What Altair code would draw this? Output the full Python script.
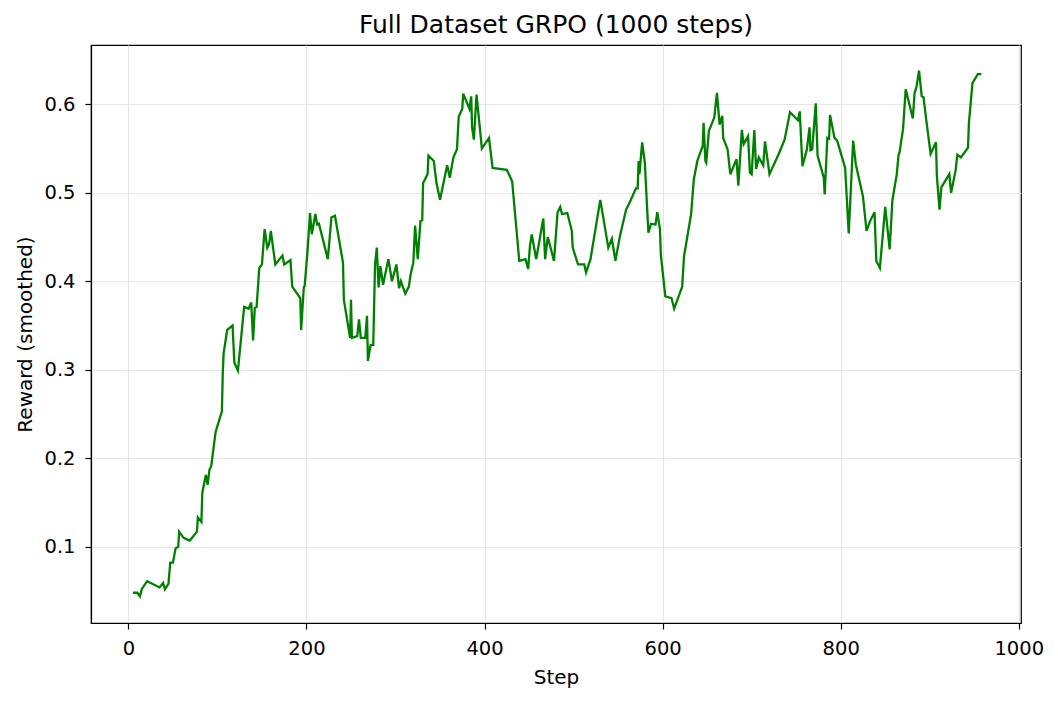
import altair as alt
import pandas as pd

steps = [5, 10, 13, 15, 21, 35, 39, 41, 45, 47, 50, 53, 56, 57, 62, 69, 77, 78, 82, 83,
         87, 89, 91, 93, 98, 105, 106, 107, 111, 117, 119, 123, 130, 135, 138, 140, 142, 144, 147, 150,
         153, 156, 158, 160, 165, 173, 175, 182, 184, 193, 194, 197, 198, 201, 204, 206, 210, 212, 214, 224,
         228, 232, 241, 242, 249, 250, 251, 257, 259, 261, 266, 268, 269, 272, 275, 277, 279, 281, 283, 286,
         292, 296, 301, 304, 306, 311, 315, 317, 320, 322, 325, 328, 330, 331, 336, 337, 343, 346, 350, 358,
         361, 365, 369, 371, 375, 376, 383, 385, 386, 388, 391, 397, 405, 409, 425, 431, 439, 446, 449, 451,
         453, 458, 466, 468, 471, 478, 482, 485, 487, 493, 498, 499, 505, 512, 514, 519, 530, 539, 543, 547,
         552, 559, 563, 570, 572, 573, 574, 577, 580, 584, 587, 592, 594, 597, 598, 603, 610, 613, 622, 624,
         632, 635, 639, 645, 646, 648, 649, 652, 658, 661, 664, 667, 668, 673, 676, 683, 685, 689, 691, 696,
         698, 700, 703, 705, 708, 713, 715, 720, 730, 737, 743, 752, 754, 757, 762, 765, 766, 768, 772, 774,
         781, 782, 785, 787, 788, 793, 796, 805, 809, 814, 817, 825, 829, 833, 838, 840, 844, 850, 855, 858,
         863, 865, 866, 870, 873, 881, 883, 885, 888, 891, 893, 896, 901, 907, 908, 911, 913, 922, 924, 929,
         931, 935, 943, 944, 948, 954, 958]

rewards = [0.048, 0.048, 0.044, 0.052, 0.061, 0.054, 0.059, 0.052, 0.058, 0.082, 0.082, 0.098, 0.100, 0.117, 0.110, 0.107, 0.117, 0.133, 0.128, 0.161,
           0.181, 0.170, 0.187, 0.191, 0.230, 0.253, 0.297, 0.319, 0.345, 0.350, 0.308, 0.299, 0.371, 0.369, 0.376, 0.333, 0.370, 0.371, 0.415, 0.419,
           0.459, 0.438, 0.442, 0.457, 0.419, 0.429, 0.419, 0.424, 0.394, 0.381, 0.345, 0.393, 0.395, 0.432, 0.477, 0.453, 0.476, 0.464, 0.465, 0.425,
           0.472, 0.474, 0.421, 0.379, 0.336, 0.379, 0.336, 0.338, 0.357, 0.336, 0.336, 0.361, 0.310, 0.328, 0.328, 0.419, 0.438, 0.393, 0.417, 0.396,
           0.425, 0.400, 0.419, 0.392, 0.400, 0.386, 0.394, 0.408, 0.421, 0.463, 0.425, 0.468, 0.469, 0.511, 0.521, 0.542, 0.536, 0.511, 0.492, 0.531,
           0.517, 0.540, 0.549, 0.586, 0.595, 0.612, 0.595, 0.609, 0.574, 0.560, 0.611, 0.550, 0.562, 0.528, 0.526, 0.513, 0.423, 0.425, 0.414, 0.440,
           0.453, 0.425, 0.471, 0.425, 0.450, 0.423, 0.478, 0.484, 0.476, 0.477, 0.457, 0.438, 0.419, 0.419, 0.410, 0.425, 0.492, 0.438, 0.448, 0.423,
           0.451, 0.481, 0.489, 0.505, 0.505, 0.536, 0.521, 0.557, 0.534, 0.455, 0.465, 0.464, 0.478, 0.459, 0.430, 0.383, 0.381, 0.369, 0.394, 0.428,
           0.476, 0.515, 0.536, 0.553, 0.579, 0.536, 0.534, 0.570, 0.585, 0.613, 0.577, 0.587, 0.562, 0.549, 0.521, 0.538, 0.508, 0.571, 0.555, 0.564,
           0.523, 0.521, 0.571, 0.527, 0.540, 0.531, 0.558, 0.521, 0.543, 0.560, 0.591, 0.582, 0.592, 0.530, 0.549, 0.574, 0.548, 0.549, 0.601, 0.542,
           0.517, 0.498, 0.562, 0.561, 0.588, 0.562, 0.559, 0.528, 0.454, 0.559, 0.532, 0.496, 0.457, 0.468, 0.478, 0.423, 0.415, 0.484, 0.436, 0.491,
           0.521, 0.543, 0.545, 0.572, 0.617, 0.584, 0.613, 0.619, 0.638, 0.609, 0.608, 0.583, 0.544, 0.557, 0.519, 0.481, 0.506, 0.521, 0.500, 0.525,
           0.543, 0.540, 0.551, 0.579, 0.624, 0.634, 0.634]

x_ticks = [0, 200, 400, 600, 800, 1000]
y_ticks = [0.1, 0.2, 0.3, 0.4, 0.5, 0.6]

df = pd.DataFrame({"Step": steps, "Reward": rewards})

FONT = "DejaVu Sans"

chart = (
    alt.Chart(df)
    .mark_line(color="#008000", strokeWidth=2.3)
    .encode(
        x=alt.X(
            "Step:Q",
            scale=alt.Scale(domain=[-42, 1002.5], nice=False, zero=False),
            axis=alt.Axis(
                values=x_ticks, format="d", title="Step",
                titleBaseline="alphabetic", titleY=60,
            ),
        ),
        y=alt.Y(
            "Reward:Q",
            scale=alt.Scale(domain=[0.0138, 0.667], nice=False, zero=False),
            axis=alt.Axis(
                values=y_ticks, format=".1f", title="Reward (smoothed)",
                titleBaseline="alphabetic", titleX=-60,
            ),
        ),
    )
    .properties(
        width=930,
        height=578,
        title=alt.TitleParams(
            "Full Dataset GRPO (1000 steps)",
            font=FONT, fontSize=25, fontWeight="normal", color="black",
            anchor="middle", offset=7.5,
        ),
        autosize=alt.AutoSizeParams(type="none"),
        padding={"left": 83, "top": 37, "right": 29, "bottom": 70},
    )
    .configure_view(stroke="black", strokeWidth=1.2)
    .configure_axis(
        labelFont=FONT, labelFontSize=19.5, labelColor="black",
        titleFont=FONT, titleFontSize=20, titleColor="black", titleFontWeight="normal",
        domainColor="black", domainWidth=1.2,
        tickColor="black", tickSize=6, tickWidth=1.2,
        labelPadding=10,
        grid=True, gridColor="#e6e6e6", gridWidth=1.2,
    )
)

chart.save("out.html", embed_options={"renderer": "svg", "actions": False})
